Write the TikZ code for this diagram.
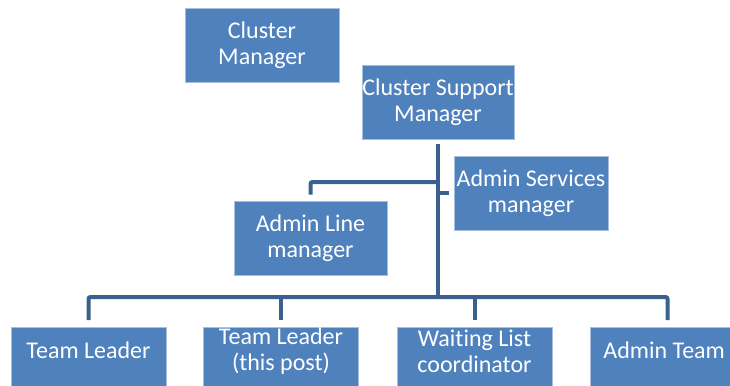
\documentclass[tikz,border=0pt]{standalone}
\usepackage{fontspec}
\setmainfont{Carlito}[Ligatures={NoCommon}]
\definecolor{tilefill}{RGB}{79,129,189}
\definecolor{tileedge}{RGB}{167,191,222}
\definecolor{linkblue}{RGB}{58,96,142}
\tikzset{
  tile/.style={rectangle, fill=tilefill, draw=tileedge, line width=0.6pt, minimum width=115.5pt, minimum height=55.5pt, inner sep=0pt, text=white, align=center, font=\fontsize{18}{19.5}\selectfont},
  tiletext/.style={text=white, align=center, inner sep=0pt, font=\fontsize{18}{19.5}\selectfont},
  link/.style={draw=linkblue, line width=3pt, rounded corners=1.5pt},
}
\begin{document}
\begin{tikzpicture}[x=0.75pt,y=-0.75pt]
    \clip (0,0) rectangle (730,385);
    %Managers
    \node[tile] (cm) at (262,45) {Cluster\\Manager};
    \node[tile, minimum width=114pt] (csm) at (438,102) {Cluster Support\\Manager};
    \node[tile] (asm) at (531,193) {Admin Services\\manager};
    \node[tile, minimum width=114.75pt] (alm) at (310.5,238) {Admin Line\\manager};
    %Teams
    \node[tile, anchor=north, minimum width=116.25pt, minimum height=60pt] (tl1) at (88.5,327) {};
    \node[tile, anchor=north, minimum width=116.25pt, minimum height=60pt] (tl2) at (281,327) {};
    \node[tile, anchor=north, minimum width=116.25pt, minimum height=60pt] (wl) at (474.5,327) {};
    \node[tile, anchor=north, minimum width=116.25pt, minimum height=60pt] (at) at (667.5,327) {};
    \node[tiletext] (tl1-txt) at ([yshift=-17.25pt]tl1.north) {Team Leader};
    \node[tiletext] (tl2-txt) at ([yshift=-18pt]tl2.north) {Team Leader\\(this post)};
    \node[tiletext] (wl-txt) at ([yshift=-18pt]wl.north) {Waiting List\\coordinator};
    \node[tiletext] (at-txt) at ([shift={(-2.5pt,-17.25pt)}]at.north) {Admin Team};
    %Links
    \coordinate (bus) at (438,297);
    \coordinate (fork) at (438,182);
    \draw[link] ([yshift=-3.75pt]csm.south) -- (bus);
    \draw[link] (fork) -| ([yshift=4.5pt]alm.north);
    \draw[link] (asm.west -| bus) -- ([xshift=-3.75pt]asm.west);
    \draw[link] ([yshift=5.25pt]tl1.north) |- (bus) -| ([yshift=5.25pt]at.north);
    \foreach \n in {tl2,wl}
        \draw[link] ([yshift=5.25pt]\n.north) -- (\n.north |- bus);
\end{tikzpicture}
\end{document}
